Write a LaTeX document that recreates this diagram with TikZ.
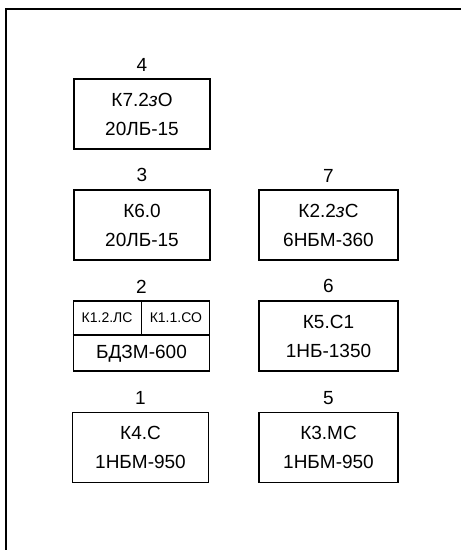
\documentclass[tikz,border=0pt]{standalone}
\usepackage{fontspec}
\setmainfont{Liberation Sans}
\usetikzlibrary{positioning, calc}

\begin{document}
\begin{tikzpicture}[
x=1pt, y=-1pt,
    blok/.style={rectangle, draw, line width=1.6pt, minimum width=136pt, minimum height=70pt, align=center, inner sep=0pt, font=\fontsize{19}{29}\selectfont},
    nomer/.style={font=\fontsize{19}{21}\selectfont, inner sep=0pt},
    yacheika/.style={font=\fontsize{14}{16}\selectfont, inner sep=0pt},
    razdel/.style={draw, line width=1.6pt},
    ramka/.style={draw, line width=1.5pt}
]
    \useasboundingbox (0,0) rectangle (461,550);

    % --- Frame ---
    \draw[ramka] (6,550) -- (6,9) -- (461,9);

    % --- Left column ---
    \node[blok] (b4) at (142,114) {К7.2\textit{з}О\\20ЛБ-15};
    \node[blok] (b3) at (142,225) {К6.0\\20ЛБ-15};
    \node[blok] (b2) at (141.5,336) {};
    \node[blok] (b1) at (140.5,447.5) {К4.С\\1НБМ-950};

    % Cells of block 2
    \draw[razdel] ([yshift=1pt]b2.west) -- ([yshift=1pt]b2.east);
    \draw[razdel] (b2.north) -- ([yshift=1pt]b2.center);
    \node[yacheika] (c21) at ($(b2.north west)!0.5!([yshift=1pt]b2.center)$) {К1.2.ЛС};
    \node[yacheika] (c22) at ($(b2.north east)!0.5!([yshift=1pt]b2.center)$) {К1.1.СО};
    \node[font=\fontsize{19}{22}\selectfont, inner sep=0pt] (c23) at ($(b2.south)!0.5!([yshift=1pt]b2.center)$) {БДЗМ-600};

    % --- Right column ---
    \node[blok, minimum width=139pt] (b7) at (328.5,225) {К2.2\textit{з}С\\6НБМ-360};
    \node[blok, minimum width=139pt] (b6) at (328.5,336) {К5.С1\\1НБ-1350};
    \node[blok, minimum width=139pt] (b5) at (328.5,447.5) {К3.МС\\1НБМ-950};

    % --- Numbers ---
    \node[nomer, above=7pt of b4] (n4) {4};
    \node[nomer, above=7pt of b3] (n3) {3};
    \node[nomer, above=7pt of b2] (n2) {2};
    \node[nomer, above=7pt of b1] (n1) {1};
    \node[nomer, above=7pt of b7] (n7) {7};
    \node[nomer, above=7pt of b6] (n6) {6};
    \node[nomer, above=7pt of b5] (n5) {5};

\end{tikzpicture}
\end{document}
